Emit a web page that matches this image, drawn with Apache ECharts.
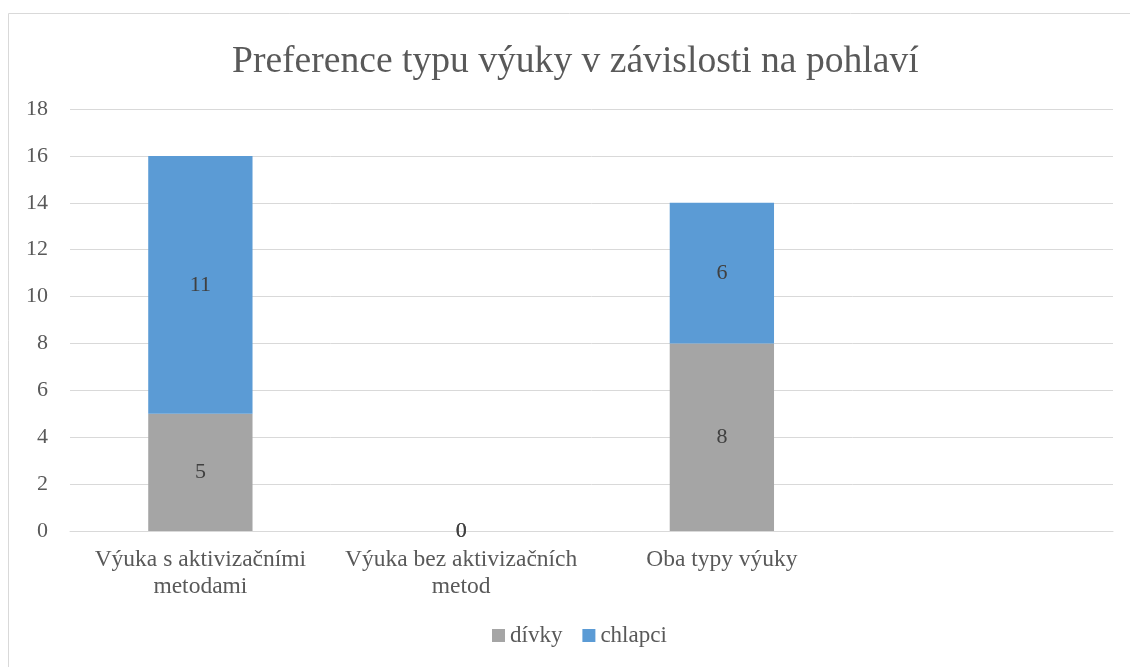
<!DOCTYPE html>
<html>
<head>
    <meta charset="utf-8">
    <title>Preference typu výuky</title>
    <script src="https://cdn.jsdelivr.net/npm/echarts@6/dist/echarts.min.js"></script>
    <style>
        html, body { margin: 0; padding: 0; background: #fff; }
        #chart { width: 1130px; height: 667px; }
    </style>
</head>
<body>
<div id="chart"></div>
<script type="text/javascript">
    // data
    var categories = ['Výuka s aktivizačními metodami', 'Výuka bez aktivizačních metod', 'Oba typy výuky', ''];
    var divky = [5, 0, 8, '-'];
    var chlapci = [11, 0, 6, '-'];
    var seriesNames = ['dívky', 'chlapci'];

    var font = "'Liberation Serif', 'Times New Roman', serif";

    var myChart = echarts.init(document.getElementById('chart'));

    var labelStyle = {
        show: true,
        position: 'inside',
        color: '#404040',
        fontFamily: font,
        fontSize: 22
    };

    myChart.setOption({
        animation: false,
        textStyle: { fontFamily: font },
        // outer chart frame
        graphic: [{
            type: 'rect',
            shape: { x: 8.5, y: 13.5, width: 1300, height: 800 },
            style: { fill: 'none', stroke: '#d9d9d9', lineWidth: 1 },
            silent: true
        }],
        title: {
            text: 'Preference typu výuky v závislosti na pohlaví',
            left: 227,
            top: 38,
            textStyle: {
                color: '#595959',
                fontFamily: font,
                fontSize: 37.6,
                fontWeight: 'normal'
            }
        },
        legend: {
            data: seriesNames,
            bottom: 15,
            left: 487,
            icon: 'rect',
            itemWidth: 13,
            itemHeight: 13,
            itemGap: 20,
            textStyle: { color: '#595959', fontFamily: font, fontSize: 23 }
        },
        grid: {
            left: 70,
            right: 17,
            top: 109,
            bottom: 136
        },
        xAxis: {
            type: 'category',
            data: categories,
            axisLine: { show: true, lineStyle: { color: '#d9d9d9', width: 1 } },
            axisTick: { show: false },
            axisLabel: {
                interval: 0,
                margin: 15,
                color: '#595959',
                fontFamily: font,
                fontSize: 23.5,
                lineHeight: 27,
                // wrap the last word "metod..." onto a second line, like the original
                formatter: function (v) {
                    return v.replace(/ (metod\S*)$/, '\n$1');
                }
            }
        },
        yAxis: {
            type: 'value',
            min: 0,
            max: 18,
            interval: 2,
            axisLine: { show: false },
            axisTick: { show: false },
            axisLabel: {
                margin: 22,
                color: '#595959',
                fontFamily: font,
                fontSize: 22
            },
            splitLine: { lineStyle: { color: '#d9d9d9', width: 1 } }
        },
        series: [{
            name: seriesNames[0],
            type: 'bar',
            stack: 'total',
            barWidth: '40%',
            itemStyle: { color: '#a5a5a5' },
            label: labelStyle,
            data: divky
        }, {
            name: seriesNames[1],
            type: 'bar',
            stack: 'total',
            barWidth: '40%',
            itemStyle: { color: '#5b9bd5' },
            label: labelStyle,
            data: chlapci
        }]
    });
</script>
</body>
</html>
